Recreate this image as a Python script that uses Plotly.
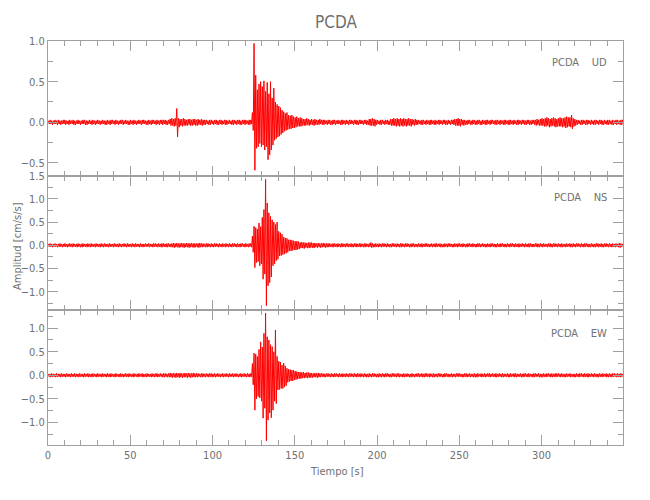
import numpy as np
import plotly.graph_objects as go
from plotly.subplots import make_subplots

# Seismogram envelopes, read per 1-second bin from the reference picture.
# Values in hundredths of cm/s/s: per-second maximum and minimum.
UD_MAX = [
    2,3,2,2,3,2,3,2,2,3, 3,2,2,3,2,3,2,2,3,2, 2,3,3,2,2,3,2,3,2,2, 3,2,2,3,2,2,3,2,3,3,
    2,3,2,2,3,3,2,3,2,2, 3,2,3,2,2,3,2,3,3,2, 2,3,2,3,3,2,3,2,3,3, 3,3,2,3,4,5,4,5,17,5,
    4,4,5,4,3,4,4,3,4,4, 3,4,3,4,3,3,3,2,3,3, 2,3,3,2,3,3,2,3,3,2, 3,2,3,3,2,3,3,2,3,3,
    3,2,3,3,12,97,58,40,47,50, 44,51,38,49,35,50,30,42,25,22, 20,18,15,13,11,12,9,8,9,7,
    6,7,5,6,5,4,4,5,4,3, 4,3,4,3,3,4,3,3,3,2, 3,3,2,3,3,2,3,2,3,3, 2,3,2,3,3,2,3,3,2,3,
    3,2,3,3,2,4,4,5,4,3, 3,2,3,3,2,3,3,2,4,4, 5,4,5,4,5,4,5,4,4,5, 4,4,3,4,3,3,2,3,3,2,
    3,2,3,3,2,3,2,3,3,2, 3,3,2,3,2,3,3,4,4,5, 4,4,3,3,2,3,3,2,3,3, 2,3,3,2,3,2,3,3,2,3,
    3,2,3,3,2,3,2,3,3,2, 3,3,2,3,2,3,3,2,3,3, 2,3,3,2,3,3,3,4,3,4, 5,4,5,6,5,4,5,6,5,4,
    5,6,5,5,6,7,6,6,9,5, 4,3,3,2,3,3,2,3,3,2, 3,2,3,3,2,3,3,2,3,2, 3,3,2,3,2,3,3,2,3,3,
]
UD_MIN = [
    -2,-2,-3,-2,-2,-3,-2,-3,-2,-2, -3,-2,-3,-2,-2,-3,-3,-2,-2,-3, -2,-2,-3,-3,-2,-2,-3,-2,-3,-2,
    -2,-3,-2,-2,-3,-3,-2,-3,-2,-2, -3,-2,-3,-2,-2,-3,-2,-2,-3,-3, -2,-3,-2,-3,-2,-2,-3,-2,-2,-3,
    -3,-2,-3,-2,-2,-3,-2,-3,-2,-3, -2,-3,-3,-2,-4,-4,-5,-4,-18,-6, -4,-5,-4,-4,-4,-3,-4,-4,-3,-4,
    -4,-3,-3,-4,-3,-3,-2,-3,-3,-2, -3,-2,-3,-3,-2,-3,-2,-3,-3,-2, -2,-3,-3,-2,-3,-2,-3,-3,-2,-3,
    -2,-3,-3,-2,-10,-59,-32,-30,-26,-30, -28,-34,-30,-46,-40,-34,-28,-22,-20,-18,
    -17,-15,-13,-11,-10,-9,-8,-8,-7,-7, -6,-5,-5,-5,-4,-4,-4,-3,-4,-3, -3,-4,-3,-3,-3,-2,-3,-3,-2,-3,
    -2,-3,-3,-2,-3,-2,-2,-3,-3,-2, -3,-2,-3,-2,-2,-3,-2,-3,-3,-2, -2,-3,-2,-3,-3,-4,-4,-4,-5,-3,
    -2,-3,-3,-2,-3,-2,-3,-3,-4,-4, -4,-5,-4,-5,-4,-5,-4,-5,-4,-4, -5,-3,-4,-3,-3,-2,-3,-3,-2,-3,
    -2,-3,-3,-2,-3,-3,-2,-3,-2,-3, -2,-3,-3,-2,-3,-2,-3,-4,-4,-4, -5,-3,-4,-3,-3,-2,-3,-3,-2,-3,
    -3,-2,-3,-3,-2,-3,-3,-2,-3,-2, -2,-3,-3,-2,-3,-2,-3,-3,-2,-3, -3,-2,-3,-2,-3,-3,-2,-3,-2,-3,
    -3,-2,-3,-3,-2,-3,-4,-3,-4,-4, -4,-5,-5,-4,-6,-5,-4,-5,-6,-5, -5,-5,-6,-5,-7,-6,-5,-6,-8,-5,
    -4,-3,-2,-3,-3,-2,-3,-3,-2,-3, -2,-3,-3,-2,-3,-2,-3,-3,-2,-3, -3,-2,-3,-3,-2,-3,-2,-3,-3,-2,
]
NS_MAX = [
    3,4,3,3,4,3,3,4,3,3, 4,3,3,4,3,4,3,3,4,3, 3,4,3,3,4,3,4,3,3,4, 3,3,4,3,4,3,3,4,3,3,
    4,3,3,4,3,3,4,3,4,3, 3,4,3,4,3,3,4,3,3,4, 3,4,3,3,4,4,3,4,3,4, 4,3,4,4,3,4,5,4,5,4,
    4,5,4,4,5,4,4,5,4,4, 4,4,5,4,4,3,4,4,3,4, 3,4,4,3,4,3,4,3,4,3, 4,3,4,4,3,4,3,4,4,3,
    4,3,4,4,20,41,38,35,48,40, 60,77,142,91,70,62,55,50,45,50, 30,27,24,18,16,15,12,12,11,10,
    9,9,8,6,7,6,6,5,6,6, 6,5,5,4,5,4,4,5,4,4, 4,4,3,4,4,3,4,3,4,4, 3,4,4,3,4,3,4,4,3,4,
    4,3,4,4,3,4,6,4,3,4, 3,4,3,4,4,3,4,3,3,4, 4,3,4,3,4,4,3,4,4,3, 3,4,4,3,3,4,3,4,3,4,
    4,3,3,4,3,4,4,3,4,3, 3,4,3,4,4,3,3,4,3,4, 4,3,4,3,3,4,4,3,4,3, 3,4,4,3,4,3,3,4,3,4,
    4,3,3,4,3,4,4,3,3,4, 3,4,4,3,4,3,4,3,4,3, 4,3,4,4,3,3,4,4,3,4, 3,4,3,3,4,4,3,4,4,3,
    4,3,4,3,3,4,3,4,3,4, 3,4,4,3,4,3,4,4,3,3, 4,3,3,4,4,3,4,3,4,4, 3,4,3,4,3,4,3,5,4,3,
]
NS_MIN = [
    -3,-3,-4,-3,-3,-4,-3,-3,-4,-3, -3,-4,-3,-3,-4,-3,-3,-4,-3,-4, -4,-3,-3,-4,-3,-4,-3,-3,-4,-3,
    -3,-4,-3,-4,-3,-3,-4,-3,-3,-4, -3,-3,-4,-3,-4,-3,-3,-4,-3,-3, -4,-3,-4,-3,-3,-4,-3,-4,-3,-3,
    -3,-4,-3,-4,-3,-3,-4,-3,-4,-4, -3,-4,-4,-3,-4,-4,-5,-4,-4,-5, -4,-4,-5,-4,-4,-5,-4,-4,-5,-4,
    -4,-5,-4,-4,-3,-4,-4,-3,-4,-3, -4,-3,-3,-4,-3,-4,-3,-4,-3,-4, -3,-4,-3,-3,-4,-3,-4,-3,-3,-4,
    -3,-4,-3,-4,-15,-48,-37,-35,-44,-40, -73,-62,-130,-87,-80,-68,-44,-40,-33,-30,
    -23,-22,-20,-19,-17,-15,-12,-12,-11,-10, -10,-9,-8,-6,-6,-7,-5,-6,-6,-5, -5,-6,-4,-5,-4,-5,-4,-4,-5,-4,
    -4,-3,-4,-4,-3,-4,-3,-4,-4,-3, -4,-3,-4,-3,-4,-4,-3,-4,-3,-4, -3,-4,-4,-3,-4,-3,-5,-4,-4,-3,
    -4,-3,-4,-3,-3,-4,-3,-4,-4,-3, -3,-4,-3,-4,-4,-3,-4,-3,-3,-4, -4,-3,-4,-3,-4,-3,-4,-4,-3,-3,
    -3,-4,-3,-4,-3,-4,-3,-3,-4,-4, -4,-3,-4,-3,-3,-4,-4,-3,-4,-3, -3,-4,-3,-4,-4,-3,-3,-4,-3,-4,
    -4,-3,-4,-3,-3,-4,-4,-3,-4,-3, -3,-4,-4,-3,-4,-3,-3,-4,-4,-3, -4,-3,-3,-4,-3,-4,-4,-3,-3,-4,
    -3,-4,-4,-3,-4,-3,-3,-4,-4,-3, -4,-3,-3,-4,-3,-4,-4,-3,-3,-4, -3,-4,-4,-3,-4,-3,-3,-4,-4,-3,
    -4,-3,-3,-4,-3,-4,-3,-3,-4,-4, -3,-4,-4,-3,-4,-3,-4,-4,-3,-3, -4,-3,-4,-3,-4,-3,-4,-5,-3,-4,
]
EW_MAX = [
    3,3,4,3,3,4,3,3,4,3, 3,4,3,3,4,3,4,3,3,4, 3,3,4,3,4,3,3,4,3,3, 4,3,3,4,3,3,4,3,4,3,
    3,4,3,3,4,3,3,4,3,4, 3,3,4,3,3,4,3,4,3,3, 4,3,3,4,3,4,4,3,4,3, 4,4,3,4,5,4,5,4,5,4,
    5,4,4,5,4,5,4,4,5,4, 4,4,3,4,4,3,4,3,4,4, 3,4,3,4,3,3,4,3,4,3, 4,3,4,3,4,3,3,4,3,4,
    3,4,3,4,25,47,45,40,55,71, 60,89,132,82,75,65,61,50,96,40, 30,28,22,26,20,15,13,12,11,11,
    9,8,7,7,6,7,5,6,6,5, 5,4,5,4,5,4,4,4,3,4, 4,3,4,3,4,4,3,4,3,4, 3,4,3,4,4,3,4,3,4,3,
    4,3,4,3,3,4,3,4,4,3, 3,4,3,4,3,4,4,3,3,4, 4,3,4,4,3,3,4,3,4,3, 3,4,3,3,4,4,3,4,3,4,
    4,3,4,3,4,3,3,4,4,3, 3,4,4,3,3,4,3,3,4,4, 4,3,3,4,4,3,4,3,3,4, 3,4,3,4,3,4,3,4,4,3,
    4,3,4,3,4,3,4,3,3,4, 3,4,3,4,4,3,3,4,3,4, 4,3,4,3,3,4,4,3,4,3, 3,4,3,4,4,3,4,3,4,4,
    4,3,4,3,3,4,3,4,3,3, 3,4,3,4,4,3,4,3,4,3, 4,3,4,3,3,4,3,4,3,4, 3,4,3,4,4,3,4,3,4,3,
]
EW_MIN = [
    -3,-4,-3,-3,-4,-3,-3,-4,-3,-3, -4,-3,-3,-4,-3,-3,-4,-3,-4,-3, -3,-4,-3,-3,-4,-3,-4,-3,-3,-4,
    -3,-3,-4,-3,-3,-4,-3,-4,-3,-3, -4,-3,-3,-4,-3,-4,-3,-3,-4,-3, -3,-4,-3,-3,-4,-3,-3,-4,-3,-4,
    -3,-3,-4,-3,-4,-3,-4,-3,-3,-4, -4,-3,-4,-4,-4,-5,-4,-5,-4,-5, -4,-5,-4,-4,-5,-4,-5,-4,-4,-4,
    -4,-3,-4,-4,-3,-4,-3,-4,-3,-4, -3,-4,-3,-3,-4,-3,-4,-3,-3,-4, -3,-3,-4,-3,-3,-4,-3,-4,-3,-3,
    -4,-3,-4,-3,-20,-74,-50,-45,-48,-55, -91,-70,-139,-95,-80,-90,-74,-55,-60,-31,
    -30,-28,-28,-25,-22,-15,-13,-12,-12,-10, -9,-8,-7,-7,-6,-6,-5,-6,-5,-5, -5,-4,-4,-5,-4,-4,-3,-4,-4,-3,
    -3,-4,-3,-4,-3,-3,-4,-3,-4,-3, -4,-3,-4,-3,-3,-4,-3,-4,-3,-4, -3,-4,-3,-4,-4,-3,-4,-3,-3,-4,
    -4,-3,-4,-3,-4,-3,-3,-4,-4,-3, -3,-4,-3,-4,-3,-4,-4,-3,-3,-4, -4,-3,-4,-3,-3,-4,-3,-4,-4,-3,
    -3,-4,-3,-4,-4,-3,-4,-3,-3,-4, -4,-3,-3,-4,-3,-4,-3,-4,-3,-3, -3,-4,-4,-3,-4,-3,-4,-3,-4,-4,
    -4,-3,-3,-4,-3,-4,-3,-3,-4,-3, -3,-4,-4,-3,-3,-4,-4,-3,-3,-4, -4,-3,-3,-4,-4,-3,-3,-4,-4,-3,
    -3,-4,-3,-3,-4,-4,-3,-3,-4,-4, -4,-3,-4,-3,-3,-4,-4,-3,-4,-3, -3,-4,-3,-4,-4,-3,-3,-4,-3,-4,
    -4,-3,-4,-3,-3,-4,-3,-4,-4,-3, -3,-4,-3,-4,-4,-3,-4,-3,-3,-4, -4,-3,-4,-3,-3,-4,-3,-4,-3,-4,
]

COMPONENTS = ["UD", "NS", "EW"]
STATION = "PCDA"
Y_RANGES = [[-0.656, 1.0], [-1.40, 1.5], [-1.48, 1.38]]
X_RANGE = [0, 349.5]
X_TICKS = [0, 50, 100, 150, 200, 250, 300]

SCALE = 0.01  # hundredths -> cm/s/s
BIN_S = 1.0   # seconds per envelope bin

FONT = "Liberation Sans Narrow, DejaVu Sans Condensed, Liberation Sans, sans-serif"
TXT = "#707070"
LINE = "#a0a0a0"

series = [(UD_MAX, UD_MIN), (NS_MAX, NS_MIN), (EW_MAX, EW_MIN)]

fig = make_subplots(rows=3, cols=1, shared_xaxes=True, vertical_spacing=0)

for i, (mx, mn) in enumerate(series):
    mx = np.asarray(mx, float) * SCALE
    mn = np.asarray(mn, float) * SCALE
    n = len(mx)
    t = np.arange(n) * BIN_S
    x = np.empty(2 * n)
    y = np.empty(2 * n)
    x[0::2] = t + 0.25 * BIN_S
    x[1::2] = t + 0.75 * BIN_S
    y[0::2] = mx
    y[1::2] = mn
    fig.add_trace(go.Scatter(x=x, y=y, mode="lines",
                             line=dict(color="#ff0000", width=1.0),
                             showlegend=False, hoverinfo="skip"),
                  row=i + 1, col=1)

for i in range(3):
    r = i + 1
    fig.update_xaxes(row=r, col=1, range=X_RANGE, tickvals=X_TICKS,
                     ticks="inside", ticklen=10, tickcolor=LINE, tickwidth=1,
                     minor=dict(dtick=10, ticks="inside", ticklen=5, tickcolor=LINE),
                     showline=True, linecolor=LINE, linewidth=1, mirror="ticks",
                     showgrid=False, zeroline=False,
                     showticklabels=(r == 3),
                     tickfont=dict(family=FONT, size=11, color=TXT))
    fig.update_yaxes(row=r, col=1, range=Y_RANGES[i], dtick=0.5, tick0=0,
                     tickformat=".1f",
                     ticks="inside", ticklen=10, tickcolor=LINE, tickwidth=1,
                     minor=dict(dtick=0.25, ticks="inside", ticklen=5, tickcolor=LINE),
                     showline=True, linecolor=LINE, linewidth=1, mirror="ticks",
                     showgrid=False, zeroline=False,
                     tickfont=dict(family=FONT, size=11, color=TXT))

# The page body adds an 8px offset; lay the figure out in page coordinates
OFF = 8
W, H = 650 - OFF, 500 - OFF
ML, MT = 48 - OFF, 41 - OFF
MR = W - (623 - OFF)
MB = H - (445 - OFF)
pw, ph = W - ML - MR, H - MT - MB

def px(xp):
    return (xp - OFF - ML) / pw

def py(yp):
    return (H - MB - (yp - OFF)) / ph

annotations = [
    dict(text=STATION, x=px(335.5), y=py(22), xref="paper", yref="paper",
         showarrow=False, xanchor="center", yanchor="middle",
         font=dict(family=FONT, size=17, color=TXT)),
    dict(text="Tiempo [s]", x=px(337), y=py(471), xref="paper", yref="paper",
         showarrow=False, xanchor="center", yanchor="middle",
         font=dict(family=FONT, size=11, color=TXT)),
    dict(text="Amplitud [cm/s/s]", x=px(8.5), y=py(246), xref="paper", yref="paper",
         showarrow=False, xanchor="left", yanchor="middle", textangle=-90,
         font=dict(family=FONT, size=11, color=TXT)),
]
label_y = [62, 197, 333]
for comp, yy in zip(COMPONENTS, label_y):
    annotations.append(dict(text=STATION + "\u00a0\u00a0\u00a0\u00a0" + comp,
                            x=px(609), y=py(yy), xref="paper", yref="paper",
                            showarrow=False, xanchor="right", yanchor="middle",
                            font=dict(family=FONT, size=11, color=TXT)))

fig.update_layout(width=W, height=H, margin=dict(l=ML, r=MR, t=MT, b=MB),
                  paper_bgcolor="white", plot_bgcolor="white",
                  annotations=annotations, showlegend=False)

fig.write_html("out.html")
